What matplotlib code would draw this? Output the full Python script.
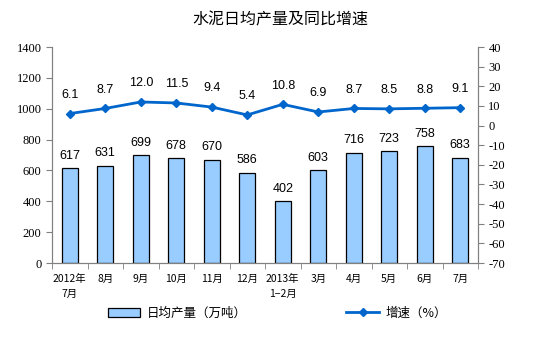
import matplotlib.pyplot as plt
import numpy as np

plt.rcParams['font.family'] = ['Noto Sans CJK SC', 'DejaVu Sans']
plt.rcParams['axes.unicode_minus'] = False

months = ['2012年\n7月', '8月', '9月', '10月', '11月', '12月',
          '2013年\n1−2月', '3月', '4月', '5月', '6月', '7月']
output = [617, 631, 699, 678, 670, 586, 402, 603, 716, 723, 758, 683]
growth = [6.1, 8.7, 12.0, 11.5, 9.4, 5.4, 10.8, 6.9, 8.7, 8.5, 8.8, 9.1]

x = np.arange(len(months))
fig = plt.figure(figsize=(5.6, 3.5), dpi=100)
ax = fig.add_axes([52 / 560, 1 - 263 / 350, 426 / 560, 216 / 350])
ax2 = ax.twinx()

bars = ax.bar(x, output, width=0.45, color='#99CCFF', edgecolor='black',
              linewidth=0.9, label='日均产量（万吨）', zorder=2)
ax.set_xlim(-0.5, len(months) - 0.5)
ax.set_ylim(0, 1400)
ax.set_yticks(range(0, 1401, 200))

line, = ax2.plot(x, growth, color='#0066CC', lw=2, marker='D', ms=4.5,
                 label='增速（%）', zorder=3)
ax2.set_ylim(-70, 40)
ax2.set_yticks(range(-70, 41, 10))

for xi, v in zip(x, output):
    ax.text(xi, v + 40, str(v), ha='center', va='bottom',
            fontsize=9, family='Liberation Sans')
for xi, v in zip(x, growth):
    ax2.text(xi, v + 6.5, f'{v:.1f}', ha='center', va='bottom',
             fontsize=9, family='Liberation Sans')

ax.set_xticks(x)
ax.set_xticklabels(months, fontsize=7.5, linespacing=1.6)
ax.set_xticks(np.arange(-0.5, len(months)), minor=True)
ax.tick_params(axis='x', which='major', length=0, pad=8)
ax.tick_params(axis='x', which='minor', length=4, color='#808080')
for a in (ax, ax2):
    a.tick_params(axis='y', length=4, color='#808080', labelsize=9)
    for lbl in a.get_yticklabels():
        lbl.set_family('Liberation Serif')
    for s in a.spines.values():
        s.set_color('#808080')
    a.spines['top'].set_visible(False)

fig.text(0.5, 1 - 20 / 350, '水泥日均产量及同比增速', ha='center', va='center',
         fontsize=11.5)

fig.legend([bars, line], ['日均产量（万吨）', '增速（%）'], loc='center',
           bbox_to_anchor=(0.495, 1 - 313 / 350), ncol=2, frameon=False,
           fontsize=9, columnspacing=8, handlelength=2.6, handletextpad=0.5)

fig.savefig('out.png', dpi=100)
